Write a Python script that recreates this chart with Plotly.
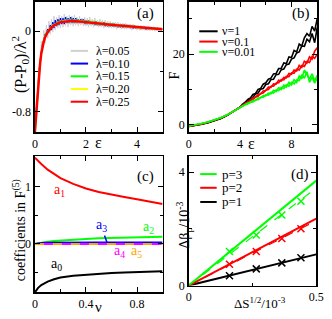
import plotly.graph_objects as go

W, H = 332, 319
def px(x): return x / W
def py(y): return 1 - y / H

FONT = "Liberation Serif, Times New Roman, serif"

# ---------------- Panel (a) data ----------------
eps_a = [round(0.05 * i, 2) for i in range(101)]
pa_lam005 = [
    -1.00, -0.70, -0.66, -0.36, -0.40, -0.10, -0.20, 0.01, -0.12, 0.06,
    -0.07, 0.10, -0.03, 0.12, -0.01, 0.15, 0.01, 0.14, 0.03, 0.16,
    0.03, 0.15, 0.04, 0.17, 0.05, 0.15, 0.04, 0.16, 0.06, 0.15,
    0.05, 0.16, 0.06, 0.14, 0.05, 0.15, 0.06, 0.13, 0.05, 0.14,
    0.05, 0.13, 0.04, 0.14, 0.05, 0.12, 0.04, 0.13, 0.05, 0.11,
    0.04, 0.12, 0.04, 0.11, 0.03, 0.11, 0.04, 0.10, 0.03, 0.10,
    0.03, 0.09, 0.03, 0.09, 0.02, 0.09, 0.03, 0.08, 0.02, 0.08,
    0.02, 0.08, 0.02, 0.07, 0.02, 0.07, 0.01, 0.07, 0.02, 0.06,
    0.01, 0.06, 0.01, 0.06, 0.01, 0.055, 0.01, 0.05, 0.005, 0.05,
    0.005, 0.045, 0.005, 0.045, 0.0, 0.04, 0.005, 0.04, 0.0, 0.035,
    0.02]
pa_lam010 = [
    -1.00, -0.79, -0.58, -0.45, -0.30, -0.22, -0.12, -0.09, -0.03, -0.02,
    0.02, -0.01, 0.06, 0.01, 0.09, 0.03, 0.11, 0.05, 0.12, 0.06,
    0.13, 0.07, 0.13, 0.07, 0.14, 0.08, 0.13, 0.08, 0.14, 0.08,
    0.13, 0.08, 0.13, 0.08, 0.12, 0.08, 0.12, 0.08, 0.12, 0.07,
    0.11, 0.07, 0.11, 0.07, 0.10, 0.07, 0.10, 0.06, 0.10, 0.06,
    0.09, 0.06, 0.09, 0.06, 0.09, 0.05, 0.08, 0.05, 0.08, 0.05,
    0.08, 0.05, 0.07, 0.05, 0.07, 0.04, 0.07, 0.04, 0.06, 0.04,
    0.06, 0.04, 0.06, 0.035, 0.055, 0.035, 0.05, 0.03, 0.05, 0.03,
    0.045, 0.03, 0.045, 0.025, 0.04, 0.025, 0.04, 0.02, 0.035, 0.02,
    0.035, 0.02, 0.03, 0.02, 0.03, 0.015, 0.03, 0.015, 0.025, 0.015,
    0.02]
pa_lam015 = [
    -1.00, -0.80, -0.60, -0.44, -0.31, -0.21, -0.13, -0.09, -0.04, -0.02,
    0.005, -0.002, 0.04, 0.025, 0.065, 0.045, 0.08, 0.06, 0.095, 0.07,
    0.105, 0.085, 0.11, 0.09, 0.115, 0.09, 0.115, 0.095, 0.115, 0.095,
    0.115, 0.09, 0.115, 0.09, 0.11, 0.09, 0.11, 0.085, 0.105, 0.085,
    0.10, 0.08, 0.10, 0.08, 0.095, 0.075, 0.095, 0.075, 0.09, 0.07,
    0.087, 0.07, 0.085, 0.065, 0.08, 0.065, 0.078, 0.06, 0.075, 0.058,
    0.072, 0.056, 0.07, 0.054, 0.066, 0.052, 0.064, 0.05, 0.061, 0.046,
    0.058, 0.044, 0.056, 0.042, 0.053, 0.04, 0.05, 0.038, 0.048, 0.036,
    0.045, 0.034, 0.043, 0.032, 0.041, 0.03, 0.039, 0.028, 0.037, 0.027,
    0.035, 0.025, 0.033, 0.024, 0.031, 0.023, 0.03, 0.021, 0.028, 0.02,
    0.021]
pa_lam020 = [
    -1.00, -0.81, -0.61, -0.45, -0.32, -0.21, -0.14, -0.095, -0.055, -0.025,
    -0.005, 0.012, 0.03, 0.036, 0.056, 0.055, 0.07, 0.07, 0.086, 0.082,
    0.096, 0.09, 0.10, 0.092, 0.104, 0.096, 0.105, 0.097, 0.106, 0.097,
    0.105, 0.096, 0.105, 0.095, 0.103, 0.095, 0.101, 0.093, 0.10, 0.09,
    0.095, 0.086, 0.092, 0.083, 0.09, 0.08, 0.087, 0.078, 0.085, 0.075,
    0.081, 0.072, 0.078, 0.07, 0.075, 0.067, 0.072, 0.064, 0.069, 0.06,
    0.066, 0.058, 0.064, 0.056, 0.061, 0.054, 0.058, 0.051, 0.056, 0.048,
    0.053, 0.046, 0.051, 0.044, 0.048, 0.042, 0.046, 0.039, 0.044, 0.036,
    0.041, 0.035, 0.039, 0.033, 0.037, 0.031, 0.035, 0.029, 0.033, 0.027,
    0.031, 0.025, 0.029, 0.024, 0.028, 0.022, 0.026, 0.021, 0.025, 0.019,
    0.02]
pa_lam025 = [
    -1.00, -0.82, -0.62, -0.46, -0.33, -0.22, -0.15, -0.10, -0.06, -0.03,
    -0.01, 0.008, 0.025, 0.038, 0.05, 0.058, 0.065, 0.073, 0.08, 0.085,
    0.09, 0.092, 0.094, 0.096, 0.098, 0.099, 0.099, 0.10, 0.10, 0.10,
    0.10, 0.10, 0.10, 0.099, 0.098, 0.097, 0.095, 0.094, 0.093, 0.091,
    0.09, 0.089, 0.087, 0.086, 0.085, 0.083, 0.082, 0.081, 0.080, 0.078,
    0.077, 0.076, 0.074, 0.073, 0.072, 0.070, 0.069, 0.068, 0.066, 0.065,
    0.063, 0.062, 0.061, 0.060, 0.058, 0.057, 0.056, 0.055, 0.053, 0.052,
    0.05, 0.049, 0.048, 0.047, 0.046, 0.044, 0.043, 0.042, 0.041, 0.040,
    0.038, 0.037, 0.036, 0.035, 0.034, 0.033, 0.032, 0.031, 0.030, 0.029,
    0.028, 0.027, 0.026, 0.026, 0.025, 0.024, 0.023, 0.022, 0.022, 0.021,
    0.02]
labels_a = ["λ=0.05", "λ=0.10", "λ=0.15", "λ=0.20", "λ=0.25"]

# ---------------- Panel (b) data ----------------
eps_b_common = [0, 0.5, 1.0, 1.5, 2.0, 2.5, 3.0, 3.5, 4.0]
eps_b_tail = [round(4.0 + 0.2 * i, 1) for i in range(31)]
F_nu1_common = [-0.4, -0.15, 0.2, 0.65, 1.2, 1.85, 2.7, 3.75, 5.0]
F_nu01_common = [-0.35, -0.1, 0.3, 0.75, 1.3, 1.95, 2.8, 3.8, 5.0]
F_nu001_common = [-0.3, -0.05, 0.4, 0.85, 1.4, 2.05, 2.85, 3.85, 5.0]
F_nu1_a = [5.0, 5.9, 6.4, 7.2, 7.6, 8.6, 8.9, 10.0, 10.3, 11.5,
           11.9, 12.9, 13.2, 14.4, 14.5, 15.9, 16.0, 17.5, 17.3, 19.2,
           19.0, 21.0, 20.6, 22.8, 22.3, 24.6, 25.8, 25.0, 27.8, 26.5,
           30.0]
F_nu1_b = [5.0, 5.6, 6.2, 6.6, 7.4, 7.8, 8.7, 9.0, 10.1, 10.3,
           11.4, 11.6, 12.8, 12.9, 14.2, 14.3, 15.6, 15.8, 17.0, 17.2,
           18.6, 18.9, 20.3, 20.6, 22.3, 22.2, 24.2, 23.5, 25.8, 23.2,
           27.5]
F_nu01_a = [5.0, 5.6, 6.0, 6.6, 6.9, 7.6, 7.8, 8.6, 8.7, 9.6,
            9.7, 10.7, 10.6, 11.6, 11.5, 12.6, 12.4, 13.4, 13.3, 14.5,
            14.3, 15.5, 15.2, 16.8, 16.2, 18.0, 17.5, 19.2, 18.6, 20.8,
            21.8]
F_nu01_b = [5.0, 5.4, 6.1, 6.3, 7.0, 7.2, 7.9, 8.1, 8.9, 9.0,
            9.8, 10.0, 10.9, 10.9, 11.8, 11.9, 12.8, 12.7, 13.7, 13.6,
            14.7, 14.6, 15.7, 15.5, 16.8, 16.5, 17.9, 17.6, 19.3, 18.8,
            20.0]
F_nu001_a = [5.0, 5.4, 5.6, 6.2, 6.3, 6.9, 6.9, 7.6, 7.6, 8.3,
             8.2, 9.0, 8.8, 9.8, 9.4, 10.5, 10.0, 11.2, 10.7, 12.0,
             11.3, 12.8, 12.0, 13.8, 13.0, 15.5, 14.2, 13.0, 14.4, 12.5,
             14.0]
F_nu001_b = [5.0, 5.2, 5.7, 5.9, 6.5, 6.5, 7.1, 7.1, 7.8, 7.8,
             8.5, 8.4, 9.2, 9.0, 9.9, 9.7, 10.6, 10.3, 11.3, 10.9,
             12.0, 11.6, 12.7, 12.5, 14.2, 13.2, 15.0, 12.0, 13.5, 11.8,
             13.2]
labels_b = ["ν=1", "ν=0.1", "ν=0.01"]

# ---------------- Panel (c) data ----------------
nu_c = [0, 0.025, 0.05, 0.1, 0.15, 0.2, 0.3, 0.4, 0.5, 0.6, 0.7, 0.8, 0.9, 1.0]
a0 = [-0.85, -0.77, -0.72, -0.66, -0.62, -0.59, -0.56, -0.54, -0.52, -0.51, -0.50, -0.49, -0.485, -0.48]
a1 = [1.51, 1.45, 1.40, 1.30, 1.22, 1.15, 1.05, 0.97, 0.91, 0.86, 0.82, 0.78, 0.74, 0.70]
a2 = [0.0, 0.012, 0.022, 0.038, 0.05, 0.06, 0.075, 0.087, 0.097, 0.105, 0.111, 0.116, 0.12, 0.124]
a3 = [0.0, 0.01, 0.014, 0.018, 0.02, 0.021, 0.022, 0.023, 0.024, 0.024, 0.025, 0.025, 0.025, 0.025]
a4 = [0.0, 0.0, 0.0, 0.0, 0.0, 0.0, 0.0, 0.0, 0.0, 0.0, 0.0, 0.0, 0.0, 0.0]
a5 = [0.0, 0.0, 0.0, 0.0, 0.0, 0.0, 0.0, 0.0, 0.0, 0.0, 0.0, 0.0, 0.0, 0.0]

# ---------------- Panel (d) data ----------------
dS_line = [0.0, 0.5]
beta1_fit = [0.0, 1.10]
beta2_fit = [0.0, 2.36]
beta3_fit = [0.0, 3.70]
beta2_dash = [0.0, 2.29]
beta3_dash = [0.0, 3.44]
dS_pts = [0.16, 0.265, 0.365, 0.44]
beta1_pts = [0.35, 0.59, 0.80, 0.98]
beta2_pts = [0.75, 1.20, 1.66, 2.00]
beta3_pts = [1.20, 1.78, 2.49, 2.97]
labels_d = ["p=3", "p=2", "p=1"]

fig = go.Figure()

# (a)
cols_a = ["#d0d0d0", "#0000ff", "#00ff00", "#ffff00", "#ff0000"]
widths_a = [1, 1.2, 1.5, 1.8, 2.5]
for ys, c, w in zip([pa_lam005, pa_lam010, pa_lam015, pa_lam020, pa_lam025], cols_a, widths_a):
    fig.add_trace(go.Scatter(x=eps_a, y=ys, mode="lines", line=dict(color=c, width=w),
                             xaxis="x", yaxis="y", showlegend=False))

# (b)
cols_b = ["#000000", "#ff0000", "#00ff00"]
for common, ta, tb, c in zip([F_nu1_common, F_nu01_common, F_nu001_common],
                             [F_nu1_a, F_nu01_a, F_nu001_a],
                             [F_nu1_b, F_nu01_b, F_nu001_b], cols_b):
    for tail in (ta, tb):
        fig.add_trace(go.Scatter(x=eps_b_common + eps_b_tail[1:], y=common + tail[1:], mode="lines",
                                 line=dict(color=c, width=1.6), xaxis="x2", yaxis="y2", showlegend=False))

# (c)
for ys, c, dash in [(a1, "#ff0000", "solid"), (a0, "#000000", "solid"), (a2, "#00ff00", "solid"),
                    (a3, "#0000ff", "solid"), (a4, "#ff00ff", "solid"), (a5, "#ffa500", "dash")]:
    fig.add_trace(go.Scatter(x=nu_c, y=ys, mode="lines", line=dict(color=c, width=2, dash=dash),
                             xaxis="x3", yaxis="y3", showlegend=False))

# (d)
for ys, c in [(beta1_fit, "#000000"), (beta2_fit, "#ff0000"), (beta3_fit, "#00ff00")]:
    fig.add_trace(go.Scatter(x=dS_line, y=ys, mode="lines", line=dict(color=c, width=2),
                             xaxis="x4", yaxis="y4", showlegend=False))
for ys, c in [(beta2_dash, "#ff0000"), (beta3_dash, "#00ff00")]:
    fig.add_trace(go.Scatter(x=dS_line, y=ys, mode="lines", line=dict(color=c, width=1.2, dash="dash"),
                             xaxis="x4", yaxis="y4", showlegend=False))
for ys, c in [(beta1_pts, "#000000"), (beta2_pts, "#ff0000"), (beta3_pts, "#00ff00")]:
    fig.add_trace(go.Scatter(x=dS_pts, y=ys, mode="markers",
                             marker=dict(symbol="x-thin", size=7, color=c, line=dict(color=c, width=1.5)),
                             xaxis="x4", yaxis="y4", showlegend=False))

ax = dict(showline=True, linecolor="black", linewidth=1.5, mirror="allticks", ticks="inside",
          ticklen=5, tickwidth=1, tickcolor="black", showgrid=False, zeroline=False,
          tickfont=dict(family=FONT, size=12, color="black"))
def minor(vals):
    return dict(tickmode="array", tickvals=vals, ticks="inside", ticklen=3, tickcolor="black", tickwidth=1)

def tickarr(vals, texts):
    return dict(tickmode="array", tickvals=vals, ticktext=texts)

fig.update_layout(
    width=W, height=H, margin=dict(l=0, r=0, t=0, b=0),
    paper_bgcolor="white", plot_bgcolor="white", showlegend=False,
    xaxis=dict(ax, domain=[px(33), px(165)], range=[0, 5], anchor="y",
               **tickarr([0, 2, 4], ["0", "2", "4"]), minor=minor([1, 3])),
    yaxis=dict(ax, domain=[py(135), py(2)], range=[-1.0, 0.29], anchor="x",
               **tickarr([-0.8, 0], ["-0.8", "0"]), minor=minor([-0.4])),
    xaxis2=dict(ax, domain=[px(192), px(325)], range=[0, 10], anchor="y2",
                **tickarr([0, 4, 8], ["0", "4", "8"]), minor=minor([2, 6])),
    yaxis2=dict(ax, domain=[py(135), py(2)], range=[-2, 34.7], anchor="x2",
                **tickarr([0, 20], ["0", "20"]), minor=minor([10, 30])),
    xaxis3=dict(ax, domain=[px(33), px(165)], range=[0, 1], anchor="y3",
                **tickarr([0, 0.4, 0.8], ["0", "0.4", "0.8"]), minor=minor([0.2, 0.6])),
    yaxis3=dict(ax, domain=[py(299), py(160)], range=[-0.85, 1.53], anchor="x3",
                **tickarr([0, 1], ["0", "1"]), minor=minor([-0.5, 0.5])),
    xaxis4=dict(ax, domain=[px(192), px(324)], range=[0, 0.5], anchor="y4",
                **tickarr([0, 0.5], ["0", "0.5"]), minor=minor([0.25])),
    yaxis4=dict(ax, domain=[py(292), py(160)], range=[0, 4.55], anchor="x4",
                **tickarr([0, 4], ["0", "4"]), minor=minor([2])),
)

shapes = []
annos = []
def txt(x, y, t, size=12, color="black", xanchor="center", angle=0):
    annos.append(dict(x=px(x), y=py(y), xref="paper", yref="paper", text=t, showarrow=False,
                      xanchor=xanchor, yanchor="middle", textangle=angle,
                      font=dict(family=FONT, size=size, color=color)))
def seg(x0, x1, y, color):
    shapes.append(dict(type="line", xref="paper", yref="paper", x0=px(x0), x1=px(x1), y0=py(y), y1=py(y),
                       line=dict(color=color, width=2)))

# legend (a)
for yy, lab, c in zip([52, 65, 78, 91, 104], labels_a, cols_a):
    seg(70, 88, yy, c)
    txt(94, yy, lab, size=12, xanchor="left")
# legend (b)
for yy, lab, c in zip([32, 42.5, 53], labels_b, cols_b):
    seg(203, 222, yy, c)
    txt(224, yy, lab, size=12, xanchor="left")
# legend (d)
for yy, lab, c in zip([178, 192, 206.5], labels_d, ["#00ff00", "#ff0000", "#000000"]):
    seg(204, 221, yy, c)
    txt(224, yy, lab, size=13, xanchor="left")

# panel labels
txt(147, 14, "(a)", size=15)
txt(308, 14, "(b)", size=15)
txt(147.5, 180, "(c)", size=15)
txt(307.5, 178, "(d)", size=15)

# axis titles
txt(17, 66, "(P-P<sub>0</sub>)/λ<sup>2</sup>", size=16, angle=-90)
txt(98.5, 146, "ε", size=16)
txt(177, 77, "F", size=14, angle=-90)
txt(257.5, 147, "ε", size=16)
txt(16, 235, "coefficients in F<sup>(5)</sup>", size=14, angle=-90)
txt(98.5, 314, "ν", size=15)
txt(187, 230, "Δβ<sub>p</sub>/10<sup>-3</sup>", size=14, angle=-90)
txt(266, 310, "ΔS<sup>1/2</sup>/10<sup>-3</sup>", size=13)

# curve labels (c)
txt(58, 195, "a<sub>1</sub>", size=14, color="#ff0000")
txt(55, 270, "a<sub>0</sub>", size=14, color="#000000")
txt(150, 233, "a<sub>2</sub>", size=14, color="#00ff00")
txt(120, 257, "a<sub>4</sub>", size=14, color="#ff00ff")
txt(138, 257, "a<sub>5</sub>", size=14, color="#ffa500")
annos.append(dict(x=0.565, y=0.024, xref="x3", yref="y3", text="a<sub>3</sub>", showarrow=True,
                  arrowhead=0, arrowwidth=1.5, arrowcolor="#0000ff", ax=-6, ay=-17,
                  font=dict(family=FONT, size=14, color="#0000ff")))

fig.update_layout(shapes=shapes, annotations=annos)
# remove the page's default 8 px body margin so the figure sits at the window corner
fig.write_html("out.html", config={"displayModeBar": False, "staticPlot": True},
               post_script="document.body.style.margin='0px';")
